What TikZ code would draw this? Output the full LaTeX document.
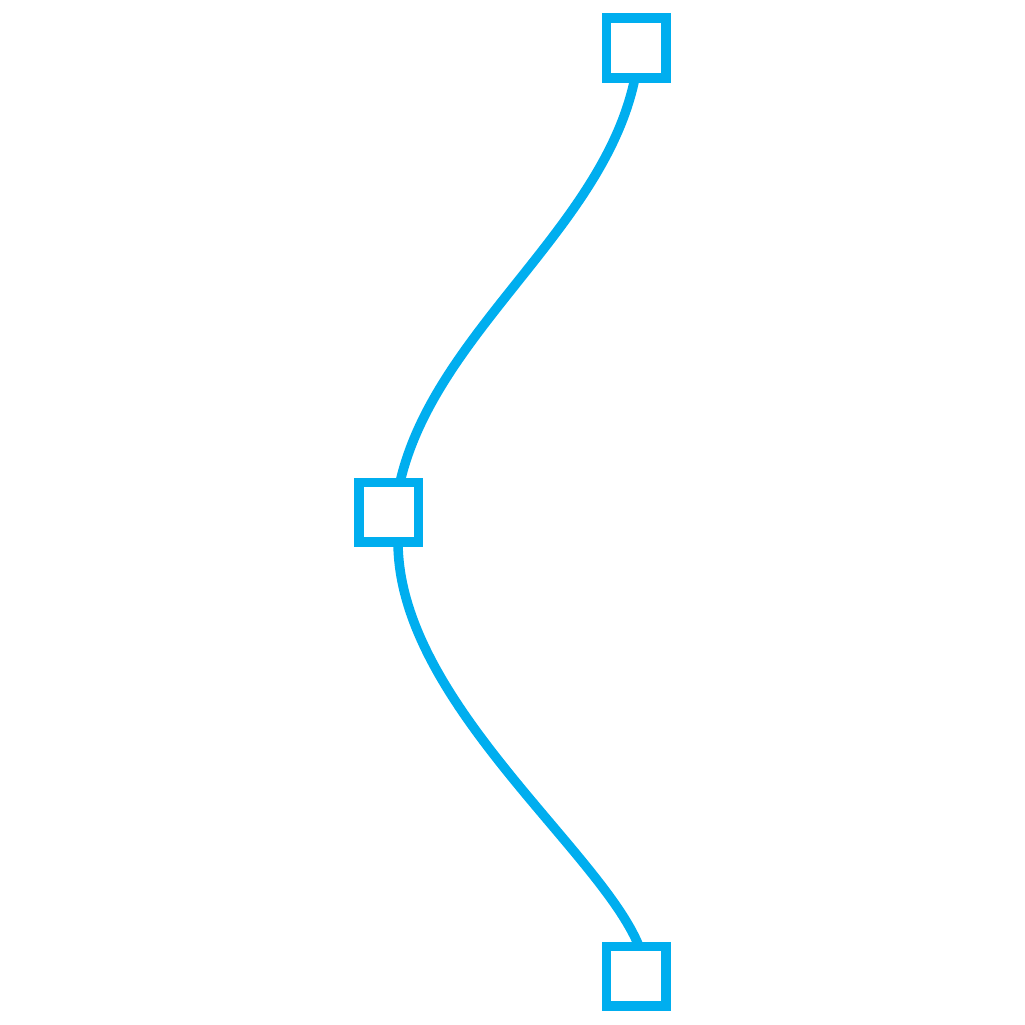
\documentclass[tikz,border=0pt]{standalone}
\usetikzlibrary{backgrounds}
\definecolor{cyanline}{RGB}{0,174,239}
\tikzset{
  sq/.style={draw=cyanline, line width=9.5pt, minimum size=59.5pt, inner sep=0pt, outer sep=0pt, fill=white},
  link/.style={draw=cyanline, line width=9.5pt}
}
\begin{document}
\begin{tikzpicture}[x=1pt,y=-1pt]
\useasboundingbox (0,0) rectangle (1025,1025);
\node[sq] (top) at (636,48) {};
\node[sq] (mid) at (388.5,512) {};
\node[sq] (bot) at (636,976) {};
\begin{scope}[on background layer]
\draw[link] ([xshift=-1pt]top.south) .. controls (604,229) and (435,331) .. ([xshift=11.5pt]mid.north);
\draw[link] ([xshift=9.5pt]mid.south) .. controls (398,700) and (600,850) .. ([xshift=3pt]bot.north);
\end{scope}
\end{tikzpicture}
\end{document}
